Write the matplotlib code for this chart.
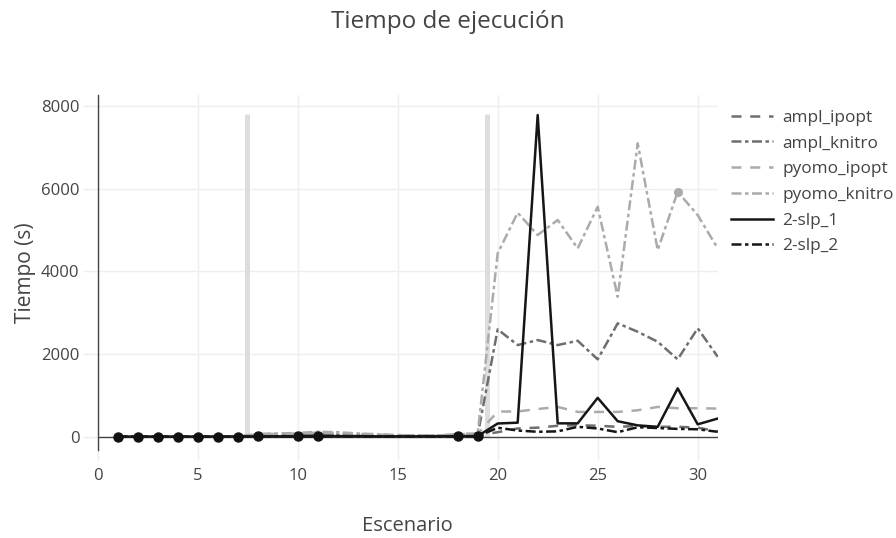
import numpy as np
import matplotlib.pyplot as plt

plt.rcParams['font.family'] = ['Open Sans', 'DejaVu Sans']

escenarios = list(range(1, 32))

ampl_ipopt = [2, 2, 3, 3, 4, 5, 5, 20, 25, 30, 40, 35, 30, 25, 20, 20, 20, 25, 30,
              110, 200, 220, 265, 280, 265, 240, 260, 240, 240, 220, 130]
ampl_knitro = [3, 3, 4, 4, 5, 6, 6, 30, 40, 50, 60, 50, 40, 30, 25, 20, 20, 30, 40,
               2596, 2216, 2337, 2216, 2320, 1871, 2741, 2538, 2296, 1871, 2620, 1934]
pyomo_ipopt = [5, 5, 6, 6, 7, 8, 8, 60, 70, 80, 100, 90, 70, 50, 40, 30, 30, 60, 70,
               610, 610, 670, 720, 600, 600, 600, 640, 720, 690, 690, 680]
pyomo_knitro = [6, 6, 7, 7, 8, 9, 10, 70, 80, 90, 120, 110, 80, 60, 40, 30, 30, 70, 80,
                4433, 5414, 4875, 5238, 4553, 5559, 3384, 7091, 4512, 5921, 5358, 4553]
slp_1 = [5, 5, 5, 5, 5, 5, 5, 10, 10, 10, 15, 15, 15, 10, 10, 10, 10, 15, 15,
         320, 340, 7775, 324, 324, 940, 375, 275, 240, 1170, 300, 440]
slp_2 = [2, 2, 2, 2, 2, 3, 3, 5, 5, 6, 8, 8, 6, 5, 5, 5, 5, 6, 8,
         218, 150, 120, 130, 240, 200, 110, 230, 210, 190, 180, 120]

# escenarios con marcador
marcados_slp = [1, 2, 3, 4, 5, 6, 7, 8, 10, 11, 18, 19]
marcados_pyomo = [29]

# barras grises verticales
barras_x = [7.45, 19.45]
barras_alto = 7800

dash = (4.0, 3.5)
dashdot = (4.0, 1.4, 1.4, 1.4)

fig = plt.figure(figsize=(8.96, 5.38), dpi=100)
ax = fig.add_axes([0.109, 0.1636, 0.692, 0.6598])

ax.vlines(barras_x, 0, barras_alto, color='#dddddd', lw=3.6, zorder=1)

series = [
    ("ampl_ipopt", ampl_ipopt, '#6e6e6e', dash),
    ("ampl_knitro", ampl_knitro, '#6e6e6e', dashdot),
    ("pyomo_ipopt", pyomo_ipopt, '#ababab', dash),
    ("pyomo_knitro", pyomo_knitro, '#ababab', dashdot),
    ("2-slp_1", slp_1, '#161616', None),
    ("2-slp_2", slp_2, '#161616', dashdot),
]
for name, vals, col, ds in series:
    line, = ax.plot(escenarios, vals, color=col, lw=1.8, label=name, zorder=3)
    if ds is not None:
        line.set_dashes(ds)

ax.plot([escenarios[i - 1] for i in marcados_pyomo], [pyomo_knitro[i - 1] for i in marcados_pyomo],
        'o', color='#ababab', ms=5.5, zorder=4)
ax.plot([escenarios[i - 1] for i in marcados_slp], [slp_1[i - 1] for i in marcados_slp],
        'o', color='#111111', ms=6.5, zorder=4)

ax.axhline(0, color='#444444', lw=1, zorder=2)

ax.set_xlim(0, 31)
ax.set_ylim(-320, 8260)
ax.set_xticks([0, 5, 10, 15, 20, 25, 30])
ax.set_yticks([0, 2000, 4000, 6000, 8000])
ax.grid(True, color='#eeeeee', lw=1)
ax.set_axisbelow(True)
for s in ['top', 'right', 'bottom']:
    ax.spines[s].set_visible(False)
ax.spines['left'].set_color('#444444')
ax.spines['left'].set_linewidth(1)
ax.tick_params(axis='x', length=7, width=1, color='#eeeeee', labelsize=12, labelcolor='#444444', pad=6)
ax.tick_params(axis='y', length=11, width=1, color='#eeeeee', labelsize=12, labelcolor='#444444', pad=2)
ax.yaxis.get_major_ticks()[0].tick1line.set_color('#444444')

ax.set_xlabel("Escenario", fontsize=14.5, color='#444444', labelpad=23)
ax.set_ylabel("Tiempo (s)", fontsize=15, color='#444444', labelpad=4)
fig.text(0.5, 0.96, "Tiempo de ejecución", ha='center', va='center', fontsize=17.5, color='#444444')

leg = fig.legend(loc='upper left', bbox_to_anchor=(0.8158, 0.796), frameon=False, fontsize=12.4,
                 handlelength=2.45, labelspacing=0.56, handletextpad=0.55,
                 borderpad=0, borderaxespad=0)
for t in leg.get_texts():
    t.set_color('#444444')

fig.savefig("out.png", dpi=100)
